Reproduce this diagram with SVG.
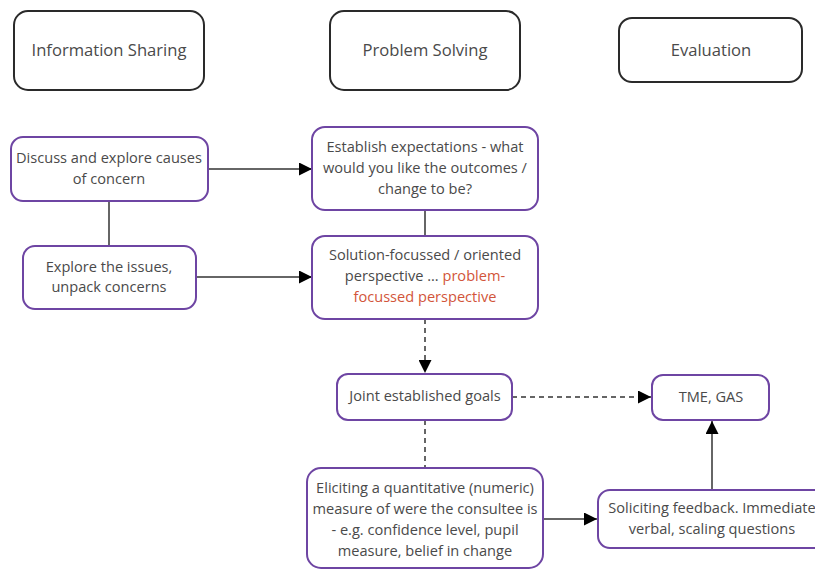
<svg xmlns="http://www.w3.org/2000/svg" width="815" height="570" viewBox="0 0 815 570">
  <style>
    .phase { fill: #ffffff; stroke: #2a2a2a; stroke-width: 2; }
    .step { fill: #ffffff; stroke: #6e45a3; stroke-width: 2; }
    .title { font-family: "Open Sans", "Noto Sans", sans-serif; font-size: 16.6px; fill: #4a4a4a; text-anchor: middle; }
    .label { font-family: "Open Sans", "Noto Sans", sans-serif; font-size: 14.6px; fill: #4a4a4a; text-anchor: middle; }
    .alt { fill: #d2553a; }
    .link { fill: none; stroke: #333333; stroke-width: 1.5; }
    .dashed { stroke-dasharray: 5 4; }
  </style>
  <defs>
    <marker id="arrow" markerUnits="userSpaceOnUse" markerWidth="13" markerHeight="13" refX="13" refY="6.5" orient="auto">
      <path d="M0,0 L13,6.5 L0,13 Z" fill="#000000"/>
    </marker>
  </defs>

  <rect width="815" height="570" fill="#ffffff"/>

  <!-- phase headings -->
  <g id="information-sharing">
    <rect class="phase" x="14" y="11" width="190" height="79" rx="14"/>
    <text class="title" x="109" y="56">Information Sharing</text>
  </g>
  <g id="problem-solving">
    <rect class="phase" x="330" y="11" width="190" height="79" rx="14"/>
    <text class="title" x="425" y="56">Problem Solving</text>
  </g>
  <g id="evaluation">
    <rect class="phase" x="619" y="18" width="183" height="64" rx="13"/>
    <text class="title" x="711" y="56">Evaluation</text>
  </g>

  <!-- connectors -->
  <g id="connectors">
    <path class="link" d="M208,169 H312" marker-end="url(#arrow)"/>
    <path class="link" d="M196,277 H312" marker-end="url(#arrow)"/>
    <path class="link" d="M109,201 V246"/>
    <path class="link" d="M425,210 V236"/>
    <path class="link dashed" d="M425,319 V373" marker-end="url(#arrow)"/>
    <path class="link dashed" d="M425,420 V468"/>
    <path class="link dashed" d="M512,397 H651" marker-end="url(#arrow)"/>
    <path class="link" d="M543,519 H597" marker-end="url(#arrow)"/>
    <path class="link" d="M712,490 V421" marker-end="url(#arrow)"/>
  </g>

  <!-- steps -->
  <g id="discuss">
    <rect class="step" x="11" y="137" width="197" height="64" rx="12"/>
    <text class="label" x="109" y="163">Discuss and explore causes</text>
    <text class="label" x="109" y="184">of concern</text>
  </g>
  <g id="explore">
    <rect class="step" x="23" y="246" width="173" height="63" rx="12"/>
    <text class="label" x="109" y="272">Explore the issues,</text>
    <text class="label" x="109" y="292">unpack concerns</text>
  </g>
  <g id="establish">
    <rect class="step" x="312" y="127" width="226" height="83" rx="13"/>
    <text class="label" x="425" y="152">Establish expectations - what</text>
    <text class="label" x="425" y="173">would you like the outcomes /</text>
    <text class="label" x="425" y="194">change to be?</text>
  </g>
  <g id="solution">
    <rect class="step" x="312" y="236" width="226" height="83" rx="13"/>
    <text class="label" x="425" y="260">Solution-focussed / oriented</text>
    <text class="label" x="425" y="281">perspective ... <tspan class="alt">problem-</tspan></text>
    <text class="label alt" x="425" y="302">focussed perspective</text>
  </g>
  <g id="joint-goals">
    <rect class="step" x="337" y="374" width="175" height="46" rx="11"/>
    <text class="label" x="425" y="401">Joint established goals</text>
  </g>
  <g id="tme-gas">
    <rect class="step" x="652" y="375" width="117" height="45" rx="11"/>
    <text class="label" x="711" y="402">TME, GAS</text>
  </g>
  <g id="eliciting">
    <rect class="step" x="307" y="468" width="236" height="100" rx="14"/>
    <text class="label" x="425" y="493">Eliciting a quantitative (numeric)</text>
    <text class="label" x="425" y="514">measure of were the consultee is</text>
    <text class="label" x="425" y="535">- e.g. confidence level, pupil</text>
    <text class="label" x="425" y="556">measure, belief in change</text>
  </g>
  <g id="soliciting">
    <rect class="step" x="598" y="490" width="228" height="58" rx="12"/>
    <text class="label" x="712" y="513">Soliciting feedback. Immediate</text>
    <text class="label" x="712" y="534">verbal, scaling questions</text>
  </g>
</svg>
